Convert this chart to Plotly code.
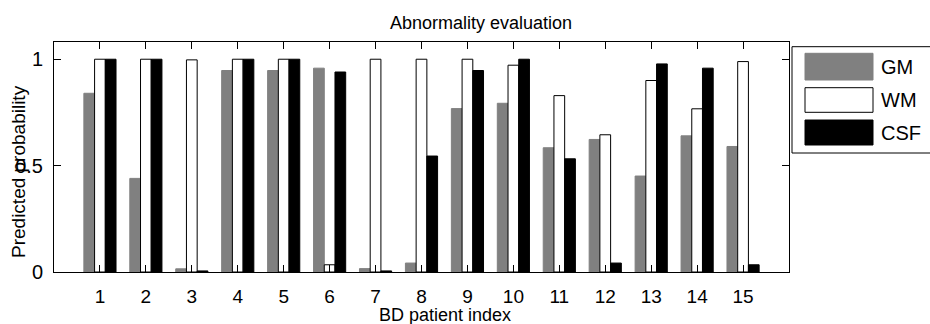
import plotly.graph_objects as go

# ---- data ----
patients = list(range(1, 16))
series_names = ["GM", "WM", "CSF"]
gm = [0.84, 0.44, 0.015, 0.947, 0.947, 0.958, 0.016, 0.042, 0.768, 0.793, 0.584, 0.623, 0.451, 0.640, 0.590]
wm = [1.0, 1.0, 0.997, 1.0, 1.0, 0.034, 1.0, 1.0, 1.0, 0.972, 0.829, 0.645, 0.900, 0.767, 0.989]
csf = [1.0, 1.0, 0.005, 1.0, 1.0, 0.940, 0.005, 0.545, 0.947, 1.0, 0.532, 0.042, 0.978, 0.958, 0.034]
y_ticks = [0, 0.5, 1]
y_tick_labels = ["0", "0.5", "1"]

fill_colors = ["#808080", "#ffffff", "#000000"]
line_colors = ["#808080", "#000000", "#000000"]

W, H = 930, 324
L, R, T, B = 54, 141, 42, 52
PW, PH = W - L - R, H - T - B
FONT = "Liberation Sans, Arial, sans-serif"


def px_x(x):
    return (x - L) / PW


def px_y(y):
    return (H - B - y) / PH


fig = go.Figure()
for name, vals, fc, lc in zip(series_names, [gm, wm, csf], fill_colors, line_colors):
    fig.add_trace(go.Bar(
        x=patients, y=vals, name=name,
        marker=dict(color=fc, line=dict(color=lc, width=1)),
        showlegend=False,
    ))

# manual legend (large swatches like the original)
shapes = [dict(type="rect", xref="paper", yref="paper",
               x0=px_x(792), x1=px_x(932), y0=px_y(153), y1=px_y(46.7),
               line=dict(color="black", width=1), fillcolor="white", layer="above")]
annotations = []
sw_rows = [(53.3, 80), (87.7, 112.3), (120, 145)]
for (ya, yb), name, fc, lc in zip(sw_rows, series_names, fill_colors, line_colors):
    shapes.append(dict(type="rect", xref="paper", yref="paper",
                       x0=px_x(805), x1=px_x(873), y0=px_y(yb), y1=px_y(ya),
                       line=dict(color=lc, width=1), fillcolor=fc, layer="above"))
    annotations.append(dict(text=name, xref="paper", yref="paper",
                            x=px_x(879), y=px_y((ya + yb) / 2), xanchor="left", yanchor="middle",
                            showarrow=False, font=dict(family=FONT, size=20, color="black")))

annotations += [
    dict(text="Abnormality evaluation", xref="paper", yref="paper", x=px_x(481), y=px_y(23),
         xanchor="center", yanchor="middle", showarrow=False,
         font=dict(family=FONT, size=18, color="black")),
    dict(text="BD patient index", xref="paper", yref="paper", x=px_x(445), y=px_y(315),
         xanchor="center", yanchor="middle", showarrow=False,
         font=dict(family=FONT, size=18, color="black")),
    dict(text="Predicted probability", xref="paper", yref="paper", x=px_x(18), y=px_y(172),
         xanchor="center", yanchor="middle", textangle=-90, showarrow=False,
         font=dict(family=FONT, size=19, color="black")),
]

fig.update_layout(
    width=W, height=H,
    margin=dict(l=L, r=R, t=T, b=B, pad=0),
    paper_bgcolor="white", plot_bgcolor="white",
    barmode="group", bargap=0.30, bargroupgap=0,
    shapes=shapes, annotations=annotations,
    font=dict(family=FONT, size=20, color="black"),
)
fig.update_xaxes(
    range=[0, 16], tickmode="array", tickvals=patients, ticktext=[str(p) for p in patients],
    showline=True, linecolor="black", linewidth=1, mirror="ticks",
    ticks="inside", ticklen=7, tickcolor="black", tickwidth=1,
    showgrid=False, zeroline=False, ticklabelstandoff=7,
    tickfont=dict(family=FONT, size=19, color="black"),
)
fig.update_yaxes(
    range=[0, 1.081], tickmode="array", tickvals=y_ticks, ticktext=y_tick_labels,
    showline=True, linecolor="black", linewidth=1, mirror="ticks",
    ticks="inside", ticklen=7, tickcolor="black", tickwidth=1,
    showgrid=False, zeroline=False, ticklabelstandoff=6,
    tickfont=dict(family=FONT, size=20, color="black"),
)

fig.write_html("out.html")
